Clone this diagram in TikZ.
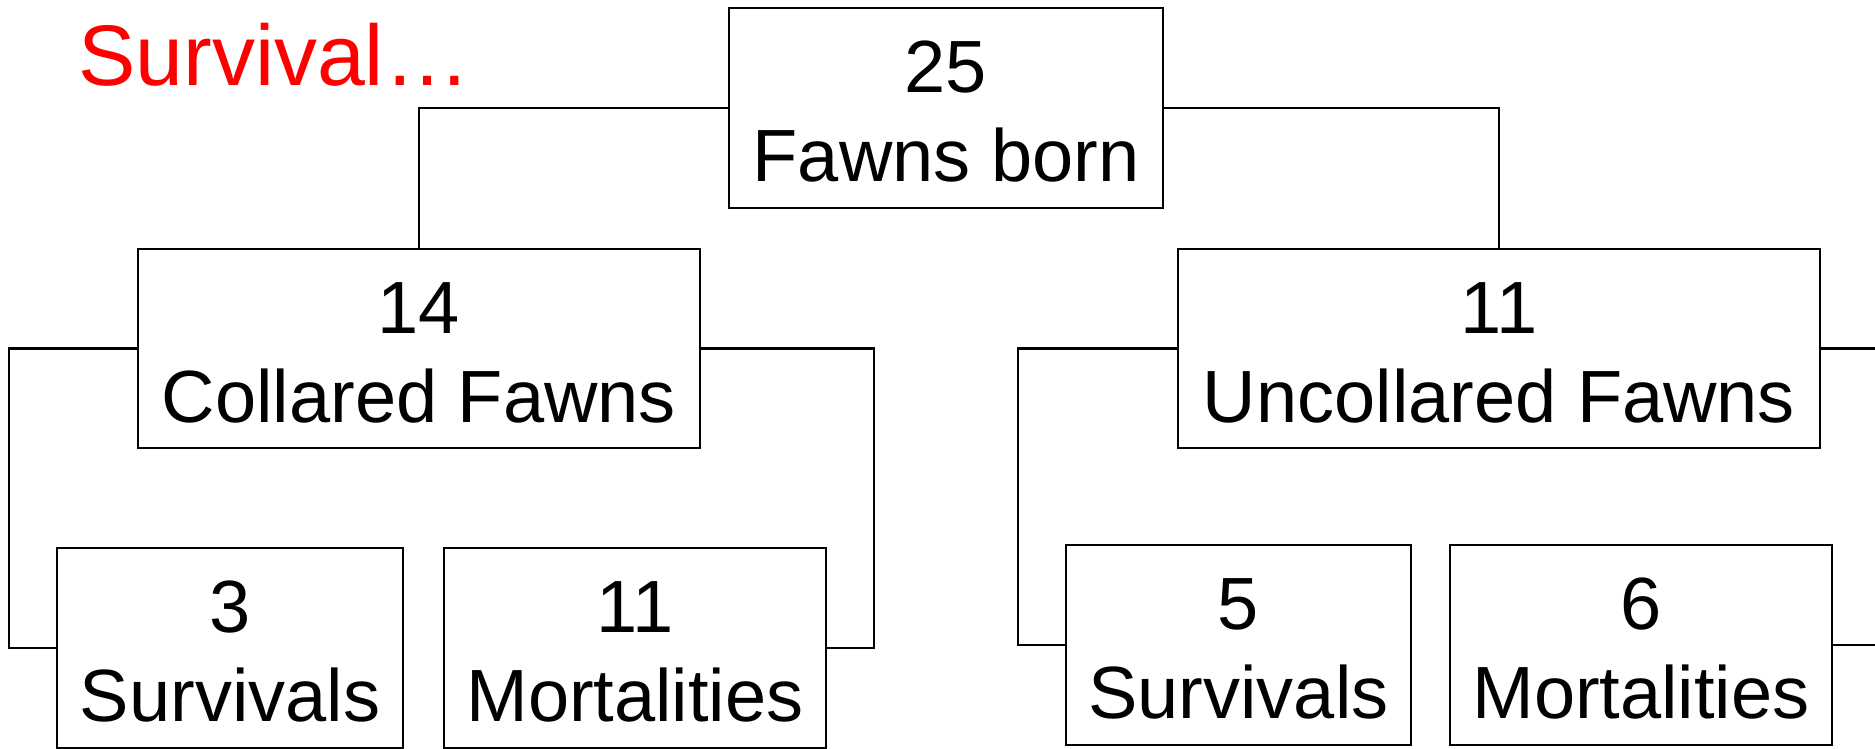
\documentclass[tikz,border=0pt]{standalone}
\usepackage{fontspec}
\setmainfont{Liberation Sans}
\tikzset{
  box/.style={draw=black, line width=2.2pt, fill=white, rectangle, inner sep=0pt, outer sep=0pt,
    align=center, font=\fontsize{74}{89}\selectfont},
  link/.style={draw=black, line width=2.2pt},
  title/.style={text=red, inner sep=0pt, anchor=base west, font=\fontsize{86}{100}\selectfont}
}
\newcommand{\firstline}{\rule{0pt}{59pt}}
\begin{document}
\begin{tikzpicture}[x=1pt,y=-1pt]
\useasboundingbox (0,0) rectangle (1875,749);
\fill[white] (0,0) rectangle (1875,749);
\node[title] (ttl) at (78,86) {Survival…};
\node[box, minimum width=434pt, minimum height=200pt] (top) at (946,108) {\firstline 25\\Fawns born};
\node[box, minimum width=562pt, minimum height=199pt] (col) at (419,348.5) {\firstline 14\\Collared Fawns};
\node[box, minimum width=642pt, minimum height=199pt] (unc) at (1499,348.5) {\firstline 11\\Uncollared Fawns};
\node[box, minimum width=346pt, minimum height=200pt] (s3) at (230,648) {\firstline 3\\Survivals};
\node[box, minimum width=382pt, minimum height=200pt] (m11) at (635,648) {\firstline 11\\Mortalities};
\node[box, minimum width=345pt, minimum height=200pt] (s5) at (1238.5,645) {\firstline 5\\Survivals};
\node[box, minimum width=382pt, minimum height=200pt] (m6) at (1641,645) {\firstline 6\\Mortalities};
\coordinate (rA) at (1880,348.5);
\coordinate (rB) at (1880,645);
\draw[link] (top.west) -| (col.north);
\draw[link] (top.east) -| (unc.north);
\draw[link] (col.west) -- ++(-129,0) |- (s3.west);
\draw[link] (col.east) -- ++(174,0) |- (m11.east);
\draw[link] (unc.west) -- ++(-160,0) |- (s5.west);
\draw[link] (unc.east) -- (rA);
\draw[link] (m6.east) -- (rB);
\end{tikzpicture}
\end{document}
